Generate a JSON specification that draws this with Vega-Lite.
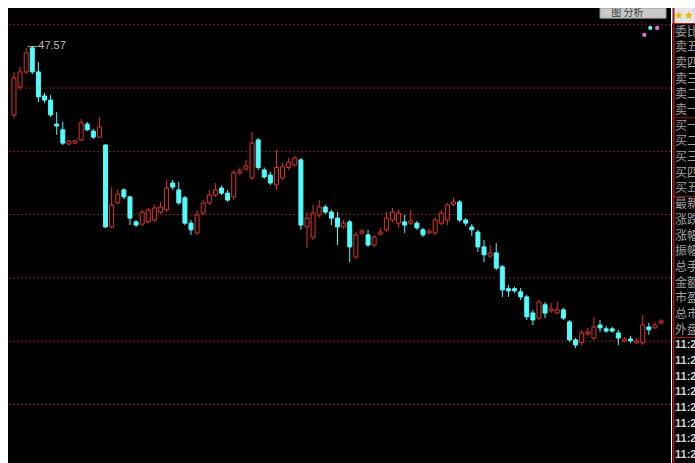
{
  "$schema": "https://vega.github.io/schema/vega-lite/v6.json",
  "background": "white",
  "padding": {"left": 7, "top": 8, "right": 0, "bottom": 0},
  "spacing": 0,
  "config": {"view": {"fill": "black", "stroke": null}},
  "datasets": {
    "k": [
      {"i":1,"o":45.39,"h":46.75,"l":45.29,"c":46.56},
      {"i":2,"o":46.27,"h":46.91,"l":46.18,"c":46.75},
      {"i":3,"o":46.75,"h":47.51,"l":46.68,"c":47.35},
      {"i":4,"o":47.51,"h":47.57,"l":46.68,"c":46.75},
      {"i":5,"o":46.75,"h":47.06,"l":45.80,"c":45.96},
      {"i":6,"o":45.99,"h":46.08,"l":45.77,"c":45.86},
      {"i":7,"o":45.86,"h":46.02,"l":45.32,"c":45.39},
      {"i":8,"o":45.10,"h":45.48,"l":44.76,"c":45.04},
      {"i":9,"o":44.92,"h":45.17,"l":44.44,"c":44.50},
      {"i":10,"o":44.47,"h":44.60,"l":44.44,"c":44.57},
      {"i":11,"o":44.50,"h":44.60,"l":44.47,"c":44.57},
      {"i":12,"o":44.60,"h":45.26,"l":44.57,"c":45.14},
      {"i":13,"o":45.10,"h":45.17,"l":44.88,"c":44.92},
      {"i":14,"o":44.88,"h":44.95,"l":44.63,"c":44.69},
      {"i":15,"o":44.69,"h":45.32,"l":44.66,"c":45.01},
      {"i":16,"o":44.44,"h":44.47,"l":41.82,"c":41.85},
      {"i":17,"o":41.85,"h":43.11,"l":41.82,"c":42.55},
      {"i":18,"o":42.61,"h":43.02,"l":42.57,"c":42.89},
      {"i":19,"o":43.02,"h":43.08,"l":42.73,"c":42.80},
      {"i":20,"o":42.80,"h":42.83,"l":41.91,"c":42.13},
      {"i":21,"o":42.01,"h":42.07,"l":41.85,"c":41.91},
      {"i":22,"o":41.94,"h":42.39,"l":41.88,"c":42.32},
      {"i":23,"o":42.01,"h":42.45,"l":41.97,"c":42.39},
      {"i":24,"o":42.07,"h":42.55,"l":42.01,"c":42.45},
      {"i":25,"o":42.32,"h":42.64,"l":42.26,"c":42.48},
      {"i":26,"o":42.39,"h":43.34,"l":42.32,"c":43.08},
      {"i":27,"o":43.24,"h":43.34,"l":43.02,"c":43.11},
      {"i":28,"o":43.02,"h":43.27,"l":42.55,"c":42.61},
      {"i":29,"o":42.77,"h":42.83,"l":41.91,"c":41.97},
      {"i":30,"o":41.97,"h":42.07,"l":41.60,"c":41.76},
      {"i":31,"o":41.66,"h":42.39,"l":41.60,"c":42.23},
      {"i":32,"o":42.29,"h":42.70,"l":42.23,"c":42.61},
      {"i":33,"o":42.61,"h":43.02,"l":42.55,"c":42.86},
      {"i":34,"o":42.86,"h":43.24,"l":42.80,"c":43.02},
      {"i":35,"o":43.08,"h":43.15,"l":42.86,"c":42.92},
      {"i":36,"o":42.92,"h":43.02,"l":42.64,"c":42.70},
      {"i":37,"o":42.80,"h":43.65,"l":42.70,"c":43.56},
      {"i":38,"o":43.56,"h":43.73,"l":43.49,"c":43.62},
      {"i":39,"o":43.68,"h":43.97,"l":43.65,"c":43.78},
      {"i":40,"o":43.40,"h":44.85,"l":43.34,"c":44.50},
      {"i":41,"o":44.60,"h":44.66,"l":43.65,"c":43.73},
      {"i":42,"o":43.65,"h":43.73,"l":43.37,"c":43.43},
      {"i":43,"o":43.49,"h":43.59,"l":43.18,"c":43.24},
      {"i":44,"o":43.18,"h":44.28,"l":43.02,"c":43.73},
      {"i":45,"o":43.40,"h":43.87,"l":43.34,"c":43.75},
      {"i":46,"o":43.73,"h":44.03,"l":43.65,"c":43.90},
      {"i":47,"o":43.81,"h":44.09,"l":43.75,"c":44.03},
      {"i":48,"o":43.97,"h":44.03,"l":41.76,"c":41.91},
      {"i":49,"o":41.85,"h":42.32,"l":41.19,"c":42.13},
      {"i":50,"o":41.53,"h":42.55,"l":41.44,"c":42.29},
      {"i":51,"o":42.23,"h":42.70,"l":42.13,"c":42.48},
      {"i":52,"o":42.48,"h":42.55,"l":42.26,"c":42.32},
      {"i":53,"o":42.32,"h":42.39,"l":41.91,"c":42.13},
      {"i":54,"o":42.13,"h":42.32,"l":41.28,"c":41.85},
      {"i":55,"o":41.85,"h":42.07,"l":41.79,"c":41.97},
      {"i":56,"o":42.01,"h":42.07,"l":40.74,"c":41.22},
      {"i":57,"o":40.90,"h":41.69,"l":40.84,"c":41.60},
      {"i":58,"o":41.66,"h":41.79,"l":41.60,"c":41.72},
      {"i":59,"o":41.60,"h":41.76,"l":41.22,"c":41.28},
      {"i":60,"o":41.28,"h":41.60,"l":41.22,"c":41.53},
      {"i":61,"o":41.63,"h":41.82,"l":41.57,"c":41.69},
      {"i":62,"o":41.76,"h":42.32,"l":41.69,"c":42.13},
      {"i":63,"o":42.07,"h":42.45,"l":42.01,"c":42.32},
      {"i":64,"o":41.97,"h":42.39,"l":41.82,"c":42.29},
      {"i":65,"o":42.01,"h":42.23,"l":41.66,"c":41.91},
      {"i":66,"o":41.97,"h":42.39,"l":41.91,"c":42.04},
      {"i":67,"o":41.97,"h":42.04,"l":41.76,"c":41.82},
      {"i":68,"o":41.76,"h":41.82,"l":41.53,"c":41.60},
      {"i":69,"o":41.66,"h":41.79,"l":41.63,"c":41.72},
      {"i":70,"o":41.66,"h":42.13,"l":41.60,"c":42.07},
      {"i":71,"o":41.97,"h":42.39,"l":41.91,"c":42.29},
      {"i":72,"o":42.07,"h":42.61,"l":41.91,"c":42.55},
      {"i":73,"o":42.57,"h":42.77,"l":42.51,"c":42.64},
      {"i":74,"o":42.64,"h":42.70,"l":42.01,"c":42.07},
      {"i":75,"o":42.07,"h":42.13,"l":41.88,"c":41.97},
      {"i":76,"o":41.85,"h":41.94,"l":41.57,"c":41.76},
      {"i":77,"o":41.69,"h":41.76,"l":41.06,"c":41.22},
      {"i":78,"o":41.22,"h":41.44,"l":40.74,"c":40.97},
      {"i":79,"o":40.93,"h":41.28,"l":40.87,"c":41.03},
      {"i":80,"o":41.03,"h":41.34,"l":40.49,"c":40.55},
      {"i":81,"o":40.59,"h":40.65,"l":39.64,"c":39.86},
      {"i":82,"o":39.90,"h":40.02,"l":39.64,"c":39.83},
      {"i":83,"o":39.90,"h":39.96,"l":39.76,"c":39.83},
      {"i":84,"o":39.80,"h":39.92,"l":39.54,"c":39.64},
      {"i":85,"o":39.64,"h":39.70,"l":38.91,"c":39.01},
      {"i":86,"o":39.13,"h":39.23,"l":38.75,"c":38.91},
      {"i":87,"o":38.97,"h":39.54,"l":38.91,"c":39.48},
      {"i":88,"o":39.39,"h":39.48,"l":38.97,"c":39.13},
      {"i":89,"o":39.20,"h":39.45,"l":39.13,"c":39.26},
      {"i":90,"o":39.13,"h":39.48,"l":39.10,"c":39.23},
      {"i":91,"o":39.23,"h":39.29,"l":38.91,"c":38.97},
      {"i":92,"o":38.85,"h":38.91,"l":38.22,"c":38.28},
      {"i":93,"o":38.28,"h":38.34,"l":38.02,"c":38.12},
      {"i":94,"o":38.19,"h":38.60,"l":38.12,"c":38.50},
      {"i":95,"o":38.47,"h":38.66,"l":38.41,"c":38.53},
      {"i":96,"o":38.34,"h":39.01,"l":38.28,"c":38.69},
      {"i":97,"o":38.75,"h":38.91,"l":38.53,"c":38.66},
      {"i":98,"o":38.63,"h":38.72,"l":38.50,"c":38.56},
      {"i":99,"o":38.63,"h":38.69,"l":38.50,"c":38.56},
      {"i":100,"o":38.50,"h":38.60,"l":38.12,"c":38.34},
      {"i":101,"o":38.25,"h":38.37,"l":38.22,"c":38.31},
      {"i":102,"o":38.31,"h":38.41,"l":38.19,"c":38.25},
      {"i":103,"o":38.19,"h":38.34,"l":38.15,"c":38.25},
      {"i":104,"o":38.19,"h":39.07,"l":38.12,"c":38.75},
      {"i":105,"o":38.69,"h":38.82,"l":38.44,"c":38.60},
      {"i":106,"o":38.66,"h":38.85,"l":38.63,"c":38.75},
      {"i":107,"o":38.82,"h":38.94,"l":38.78,"c":38.88}
    ],
    "grid": [{"p":48.24},{"p":46.24},{"p":44.24},{"p":42.24},{"p":40.24},{"p":38.24},{"p":36.24}],
    "note": [{"i":4,"p":47.57,"t":"—47.57"}],
    "dots": [{"i":104.26,"p":47.92,"col":"pink"},{"i":105.23,"p":48.14,"col":"cyan"},{"i":106.36,"p":48.14,"col":"pink"}],
    "ui": [{"i0":97.0,"i1":107.81,"p0":48.77,"p1":48.45,"t":"图 分析","im":101.5,"pm":48.61}],
    "panel": [
      {"r":1,"t":"委比"},{"r":2,"t":"卖五"},{"r":3,"t":"卖四"},{"r":4,"t":"卖三"},{"r":5,"t":"卖二"},{"r":6,"t":"卖一"},
      {"r":7,"t":"买一"},{"r":8,"t":"买二"},{"r":9,"t":"买三"},{"r":10,"t":"买四"},{"r":11,"t":"买五"},
      {"r":12,"t":"最新"},{"r":13,"t":"涨跌"},{"r":14,"t":"涨幅"},{"r":15,"t":"振幅"},{"r":16,"t":"总手"},
      {"r":17,"t":"金额"},{"r":18,"t":"市盈"},{"r":19,"t":"总市"},{"r":20,"t":"外盘"}
    ],
    "times": [
      {"r":21,"t":"11:29"},{"r":22,"t":"11:29"},{"r":23,"t":"11:28"},{"r":24,"t":"11:28"},
      {"r":25,"t":"11:27"},{"r":26,"t":"11:27"},{"r":27,"t":"11:26"},{"r":28,"t":"11:26"}
    ],
    "star": [{"r":0,"t":"★★"}],
    "div": [{"r":0.5},{"r":6.5},{"r":11.5},{"r":20.5}]
  },
  "hconcat": [
    {
      "width": 663,
      "height": 455,
      "layer": [
        {
          "data": {"name": "grid"},
          "mark": {"type": "rule", "color": "#8c1c1c", "strokeDash": [2, 2], "strokeWidth": 1},
          "encoding": {
            "y": {"field": "p", "type": "quantitative", "scale": {"domain": [34.39, 48.77], "nice": false, "zero": false}, "axis": null}
          }
        },
        {
          "data": {"name": "k"},
          "mark": {"type": "rule", "strokeWidth": 1, "clip": true},
          "encoding": {
            "x": {"field": "i", "type": "quantitative", "scale": {"domain": [0.839, 107.81], "nice": false, "zero": false}, "axis": null},
            "y": {"field": "l", "type": "quantitative", "scale": {"domain": [34.39, 48.77], "nice": false, "zero": false}, "axis": null},
            "y2": {"field": "h"},
            "color": {"condition": {"test": "datum.c >= datum.o", "value": "#e0342c"}, "value": "#54fcfc"}
          }
        },
        {
          "data": {"name": "k"},
          "mark": {"type": "bar", "size": 4, "strokeWidth": 1, "clip": true},
          "encoding": {
            "x": {"field": "i", "type": "quantitative", "scale": {"domain": [0.839, 107.81], "nice": false, "zero": false}, "axis": null},
            "y": {"field": "o", "type": "quantitative", "scale": {"domain": [34.39, 48.77], "nice": false, "zero": false}, "axis": null},
            "y2": {"field": "c"},
            "fill": {"condition": {"test": "datum.c >= datum.o", "value": "#000000"}, "value": "#54fcfc"},
            "stroke": {"condition": {"test": "datum.c >= datum.o", "value": "#e0342c"}, "value": "#54fcfc"}
          }
        },
        {
          "data": {"name": "note"},
          "mark": {"type": "text", "align": "left", "baseline": "middle", "dx": -5, "fontSize": 11, "font": "Liberation Sans", "color": "#bdbdbd", "clip": true},
          "encoding": {
            "x": {"field": "i", "type": "quantitative", "scale": {"domain": [0.839, 107.81], "nice": false, "zero": false}, "axis": null},
            "y": {"field": "p", "type": "quantitative", "scale": {"domain": [34.39, 48.77], "nice": false, "zero": false}, "axis": null},
            "text": {"field": "t"}
          }
        },
        {
          "data": {"name": "dots"},
          "mark": {"type": "circle", "size": 18, "opacity": 1, "clip": true},
          "encoding": {
            "x": {"field": "i", "type": "quantitative", "scale": {"domain": [0.839, 107.81], "nice": false, "zero": false}, "axis": null},
            "y": {"field": "p", "type": "quantitative", "scale": {"domain": [34.39, 48.77], "nice": false, "zero": false}, "axis": null},
            "color": {"field": "col", "type": "nominal", "scale": {"domain": ["pink", "cyan"], "range": ["#e46ee4", "#5ef0f0"]}, "legend": null}
          }
        },
        {
          "data": {"name": "ui"},
          "mark": {"type": "rect", "fill": "#c9c9c9", "stroke": "#9a9a9a", "strokeWidth": 1, "clip": true},
          "encoding": {
            "x": {"field": "i0", "type": "quantitative", "scale": {"domain": [0.839, 107.81], "nice": false, "zero": false}, "axis": null},
            "x2": {"field": "i1"},
            "y": {"field": "p0", "type": "quantitative", "scale": {"domain": [34.39, 48.77], "nice": false, "zero": false}, "axis": null},
            "y2": {"field": "p1"}
          }
        },
        {
          "data": {"name": "ui"},
          "mark": {"type": "text", "fontSize": 10, "font": "Noto Sans CJK SC", "color": "#404040", "baseline": "middle", "clip": true},
          "encoding": {
            "x": {"field": "im", "type": "quantitative", "scale": {"domain": [0.839, 107.81], "nice": false, "zero": false}, "axis": null},
            "y": {"field": "pm", "type": "quantitative", "scale": {"domain": [34.39, 48.77], "nice": false, "zero": false}, "axis": null},
            "text": {"field": "t"}
          }
        }
      ]
    },
    {
      "width": 25,
      "height": 455,
      "layer": [
        {
          "data": {"name": "star"},
          "mark": {"type": "rect", "fill": "#e4e4e4", "clip": true},
          "encoding": {
            "x": {"datum": 0, "type": "quantitative", "scale": {"domain": [0, 1], "nice": false, "zero": false}, "axis": null},
            "x2": {"datum": 1},
            "y": {"datum": -0.5, "type": "quantitative", "scale": {"domain": [-0.5, 28.5], "reverse": true, "nice": false, "zero": false}, "axis": null},
            "y2": {"datum": 0.5}
          }
        },
        {
          "data": {"name": "star"},
          "mark": {"type": "text", "align": "left", "baseline": "middle", "fontSize": 11, "color": "#f0b800", "dx": 2, "clip": true},
          "encoding": {
            "x": {"datum": 0, "type": "quantitative", "scale": {"domain": [0, 1], "nice": false, "zero": false}, "axis": null},
            "y": {"field": "r", "type": "quantitative", "scale": {"domain": [-0.5, 28.5], "reverse": true, "nice": false, "zero": false}, "axis": null},
            "text": {"field": "t"}
          }
        },
        {
          "data": {"name": "div"},
          "mark": {"type": "rule", "color": "#a01a1a", "strokeWidth": 1, "clip": true},
          "encoding": {
            "y": {"field": "r", "type": "quantitative", "scale": {"domain": [-0.5, 28.5], "reverse": true, "nice": false, "zero": false}, "axis": null}
          }
        },
        {
          "data": {"name": "star"},
          "mark": {"type": "rule", "color": "#a01a1a", "strokeWidth": 2, "clip": true},
          "encoding": {
            "x": {"datum": 0.06, "type": "quantitative", "scale": {"domain": [0, 1], "nice": false, "zero": false}, "axis": null}
          }
        },
        {
          "data": {"name": "panel"},
          "mark": {"type": "text", "align": "left", "baseline": "middle", "fontSize": 12, "font": "Noto Sans CJK SC", "color": "#a0a0a0", "dx": 3, "clip": true},
          "encoding": {
            "x": {"datum": 0, "type": "quantitative", "scale": {"domain": [0, 1], "nice": false, "zero": false}, "axis": null},
            "y": {"field": "r", "type": "quantitative", "scale": {"domain": [-0.5, 28.5], "reverse": true, "nice": false, "zero": false}, "axis": null},
            "text": {"field": "t"}
          }
        },
        {
          "data": {"name": "times"},
          "mark": {"type": "text", "align": "left", "baseline": "middle", "fontSize": 11, "fontWeight": "bold", "font": "Liberation Sans", "color": "#d0d0d0", "dx": 3, "clip": true},
          "encoding": {
            "x": {"datum": 0, "type": "quantitative", "scale": {"domain": [0, 1], "nice": false, "zero": false}, "axis": null},
            "y": {"field": "r", "type": "quantitative", "scale": {"domain": [-0.5, 28.5], "reverse": true, "nice": false, "zero": false}, "axis": null},
            "text": {"field": "t"}
          }
        }
      ]
    }
  ]
}
